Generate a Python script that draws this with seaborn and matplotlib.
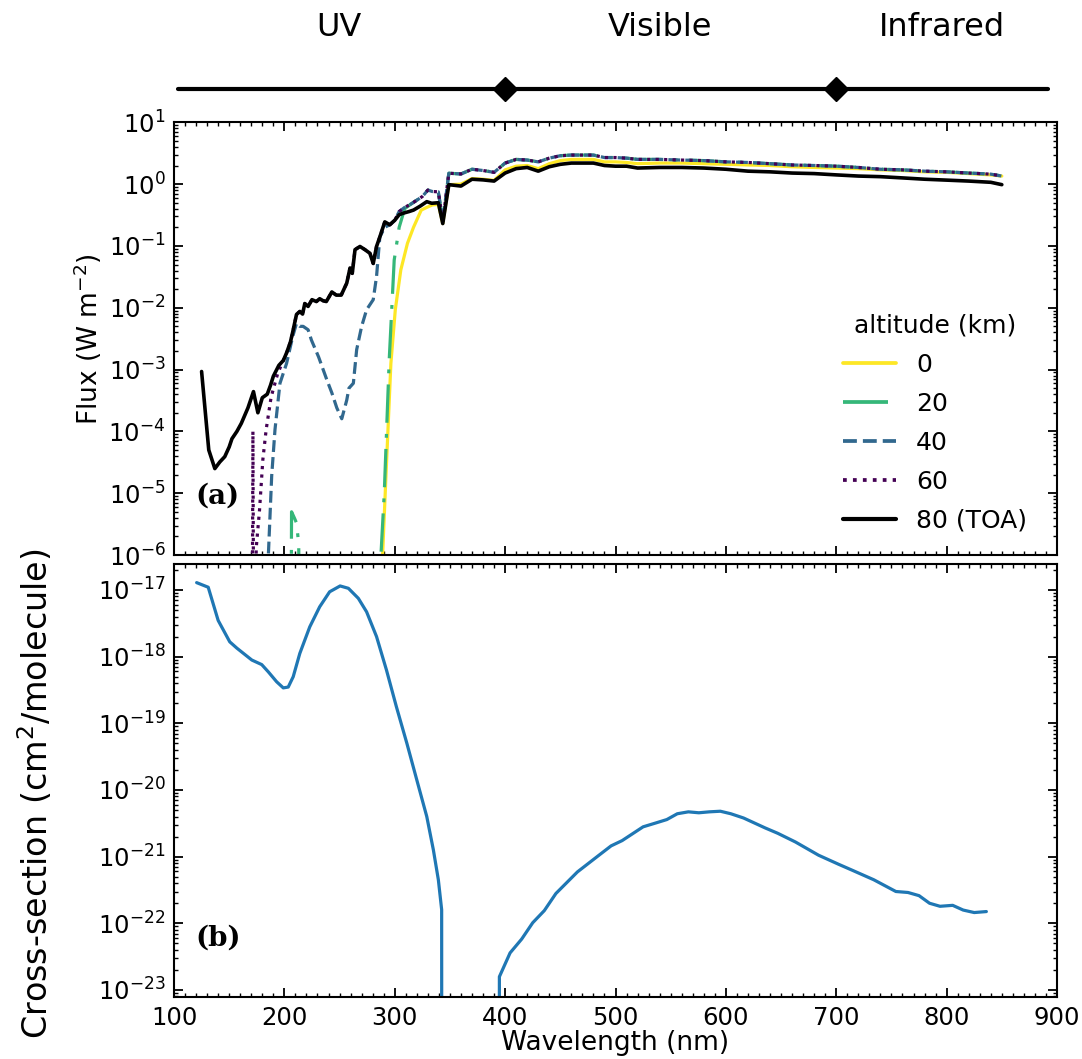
import numpy as np
import pandas as pd
import matplotlib
matplotlib.use("Agg")
import matplotlib.pyplot as plt
from matplotlib.lines import Line2D
from matplotlib.ticker import LogLocator, MultipleLocator, NullFormatter
import seaborn as sns

# ---------------- data ----------------
alt_labels = ["0", "20", "40", "60", "80 (TOA)"]
alt_colors = ["#fde725", "#35b779", "#31688e", "#440154", "#000000"]

# shared visible / near-IR wavelength grid (nm)
vis_wl = [349, 360, 370, 380, 390, 400, 410, 420, 430, 440, 450, 460, 470, 480, 490,
          500, 510, 520, 540, 560, 580, 600, 620, 640, 660, 680, 700, 720, 740, 760,
          780, 800, 820, 840, 850]
flux0_vis = [0.98, 1.00, 1.23, 1.20, 1.15, 1.70, 1.95, 2.00, 1.78, 2.14, 2.40, 2.51, 2.51,
             2.51, 2.29, 2.29, 2.24, 2.14, 2.19, 2.19, 2.14, 2.09, 2.04, 2.00, 1.91, 1.86,
             1.82, 1.78, 1.70, 1.66, 1.58, 1.55, 1.48, 1.41, 1.35]
flux_strat_vis = [1.50, 1.46, 1.74, 1.66, 1.55, 2.19, 2.51, 2.45, 2.29, 2.63, 2.88, 2.95,
                  2.95, 2.95, 2.69, 2.69, 2.63, 2.51, 2.51, 2.45, 2.40, 2.29, 2.24, 2.14,
                  2.04, 2.00, 1.95, 1.86, 1.74, 1.70, 1.62, 1.58, 1.51, 1.45, 1.35]
flux80_vis = [0.98, 0.93, 1.20, 1.17, 1.12, 1.51, 1.78, 1.86, 1.62, 1.91, 2.09, 2.19, 2.19,
              2.19, 2.00, 1.95, 1.95, 1.82, 1.86, 1.86, 1.82, 1.74, 1.62, 1.58, 1.51, 1.48,
              1.41, 1.35, 1.32, 1.26, 1.20, 1.16, 1.12, 1.07, 0.98]

# UV parts of each altitude (W m-2)
wl0_uv = [288, 289, 292, 296.5, 300.5, 305.5, 311.5, 317, 324, 329, 334, 339.5, 343.5]
flux0_uv = [1e-12, 1e-6, 1.86e-5, 1.26e-3, 9.3e-3, 4.1e-2, 0.11, 0.20, 0.38, 0.42, 0.46,
            0.47, 0.23]

wl20_uv = [205, 206.5, 209, 211, 213, 214.5, 285, 287.5, 290.5, 295, 299.5, 304, 309,
           315, 320, 325, 330, 334, 339.5, 343.5]
flux20_uv = [1e-12, 5e-6, 4e-6, 3.3e-6, 1.5e-6, 1e-10, 1e-12, 1e-6, 1e-5, 1.45e-3, 5.9e-2,
             0.2, 0.40, 0.48, 0.55, 0.63, 0.80, 0.76, 0.75, 0.25]

wl40_uv = [183, 185.5, 188.5, 191.5, 196, 202, 207.5, 211, 214, 217, 221.5, 224.5, 231,
           238.5, 243, 247.5, 252, 256.5, 258.5, 262.5, 265.5, 270, 274.5, 280.5, 283.5,
           286.5, 291, 295.5, 300, 304, 309, 315, 320, 325, 330, 334, 339.5, 343.5]
flux40_uv = [1e-12, 1e-6, 1.9e-5, 1.07e-4, 6e-4, 1.26e-3, 3.4e-3, 5.6e-3, 5.0e-3, 5.0e-3,
             4.4e-3, 3.0e-3, 1.6e-3, 6.8e-4, 4.2e-4, 2.4e-4, 1.6e-4, 3.2e-4, 5e-4, 6e-4,
             2.1e-3, 5.0e-3, 9.3e-3, 1.35e-2, 3.2e-2, 0.14, 0.20, 0.22, 0.26, 0.36, 0.42,
             0.48, 0.55, 0.63, 0.80, 0.76, 0.75, 0.25]

wl60_uv = [170, 171.5, 172.5, 174.5, 177.5, 180.5, 183.5, 188, 194, 199, 202, 205.5, 207.5,
           211, 214, 216.5, 218.5, 221.5, 225, 229, 232, 235, 238, 243, 247, 251.5, 256.5,
           259.5, 261.5, 264, 268.5, 273, 277.5, 280.5, 283.5, 286.5, 291, 295.5, 300,
           304, 309, 315, 320, 325, 330, 334, 339.5, 343.5]
flux60_uv = [1e-12, 1e-4, 1e-9, 1.3e-6, 5.4e-6, 3.5e-5, 1.07e-4, 3.6e-4, 8.7e-4, 1.4e-3,
             1.86e-3, 2.8e-3, 4.0e-3, 7.8e-3, 8.7e-3, 7.9e-3, 1.17e-2, 1.05e-2, 1.35e-2,
             1.26e-2, 1.4e-2, 1.3e-2, 1.26e-2, 1.8e-2, 1.6e-2, 1.6e-2, 2.5e-2, 4.4e-2,
             3.6e-2, 8.7e-2, 9.8e-2, 8.7e-2, 7.6e-2, 5.2e-2, 9.8e-2, 0.14, 0.245, 0.22,
             0.26, 0.36, 0.42, 0.48, 0.55, 0.63, 0.80, 0.76, 0.75, 0.25]

wl80_uv = [125, 131.5, 137, 141.5, 146, 150, 152.5, 157, 161, 167, 172, 176, 180, 184.5,
           187.5, 190, 195, 199, 202, 205.5, 207.5, 211, 214, 216.5, 218.5, 221.5, 225,
           229, 232, 235, 238, 243, 247, 251.5, 256.5, 259.5, 261.5, 264, 268.5, 273,
           277.5, 280.5, 283.5, 286.5, 291, 295.5, 300, 304, 308, 313, 317, 323, 329,
           333.5, 339.5, 343.5]
flux80_uv = [9.3e-4, 5.0e-5, 2.5e-5, 3.2e-5, 3.9e-5, 5.6e-5, 7.6e-5, 1.0e-4, 1.35e-4,
             2.4e-4, 4.4e-4, 2.0e-4, 3.5e-4, 4.0e-4, 5.6e-4, 7.8e-4, 1.17e-3, 1.4e-3,
             1.86e-3, 2.8e-3, 4.0e-3, 7.8e-3, 8.7e-3, 7.9e-3, 1.17e-2, 1.05e-2, 1.35e-2,
             1.26e-2, 1.4e-2, 1.3e-2, 1.26e-2, 1.8e-2, 1.6e-2, 1.6e-2, 2.5e-2, 4.4e-2,
             3.6e-2, 8.7e-2, 9.8e-2, 8.7e-2, 7.6e-2, 5.2e-2, 9.8e-2, 0.14, 0.245, 0.22,
             0.26, 0.32, 0.34, 0.36, 0.38, 0.44, 0.52, 0.49, 0.50, 0.23]

# ozone absorption cross-section (cm2/molecule)
xs_wl = [120.5, 131, 140, 150.5, 157, 170.5, 179.5, 185.5, 193, 199, 203.5, 208, 214, 223,
         232, 241, 250.5, 258, 267, 274.5, 283.5, 292.5, 301.5, 311, 320, 329, 335, 339.5,
         342.5, 342.7, 394.6, 394.8, 404.5, 415, 425, 435.5, 446, 465.5, 485, 496, 506,
         525, 536.5, 546.5, 556, 566, 575.5, 585, 595, 604.5, 616, 635.5, 647, 663, 684,
         702, 715, 734, 754, 765, 775, 784.5, 794, 805.5, 815, 825, 836]
xs_val = [1.29e-17, 1.1e-17, 3.5e-18, 1.67e-18, 1.34e-18, 8.9e-19, 7.6e-19, 5.9e-19,
          4.2e-19, 3.4e-19, 3.5e-19, 5e-19, 1.12e-18, 2.8e-18, 5.6e-18, 9.4e-18, 1.15e-17,
          1.06e-17, 7.5e-18, 4.7e-18, 2.0e-18, 6.3e-19, 1.77e-19, 5e-20, 1.41e-20, 4e-21,
          1.26e-21, 4.5e-22, 1.6e-22, 1e-30, 1e-30, 1.58e-23, 3.6e-23, 5.8e-23, 1.02e-22,
          1.55e-22, 2.8e-22, 5.9e-22, 1.05e-21, 1.45e-21, 1.74e-21, 2.8e-21, 3.2e-21,
          3.6e-21, 4.4e-21, 4.7e-21, 4.55e-21, 4.7e-21, 4.8e-21, 4.4e-21, 3.8e-21, 2.7e-21,
          2.24e-21, 1.66e-21, 1.05e-21, 7.7e-22, 6.2e-22, 4.5e-22, 3.0e-22, 2.9e-22,
          2.6e-22, 2.0e-22, 1.8e-22, 1.86e-22, 1.58e-22, 1.45e-22, 1.5e-22]

band_labels = ["UV", "Visible", "Infrared"]
band_label_x = [249, 540, 796]
band_edges = [400, 700]

# ---------------- tables ----------------
series_wl = [wl0_uv + vis_wl, wl20_uv + vis_wl, wl40_uv + vis_wl, wl60_uv + vis_wl,
             wl80_uv + vis_wl]
series_fl = [flux0_uv + flux0_vis, flux20_uv + flux_strat_vis, flux40_uv + flux_strat_vis,
             flux60_uv + flux_strat_vis, flux80_uv + flux80_vis]
rows = []
for lab, wls, fls in zip(alt_labels, series_wl, series_fl):
    for w, f in zip(wls, fls):
        rows.append((lab, w, f))
df_flux = pd.DataFrame(rows, columns=["altitude", "wl", "flux"])
df_xs = pd.DataFrame({"wl": xs_wl, "xs": xs_val})

# ---------------- style ----------------
sns.set_theme(style="ticks")
plt.rcParams["font.family"] = ["DejaVu Sans"]
plt.rcParams["mathtext.fontset"] = "dejavusans"
for key in ("text.color", "axes.labelcolor", "xtick.color", "ytick.color",
            "axes.edgecolor"):
    plt.rcParams[key] = "black"

alt_dashes = ["", (12, 3.5, 1.2, 3.5), (3.7, 1.6), (1, 1.65), ""]
alt_lw = [2.3, 2.3, 2.3, 2.3, 2.6]

fig = plt.figure(figsize=(10.82, 10.59), dpi=100)
L = 174 / 1082
W = 883 / 1082
ax_band = fig.add_axes([L, 1 - 120 / 1059, W, 120 / 1059])
ax_a = fig.add_axes([L, 1 - 555 / 1059, W, 432.7 / 1059])
ax_b = fig.add_axes([L, 1 - 997.3 / 1059, W, 433.3 / 1059])

# panel a
sns.lineplot(data=df_flux, x="wl", y="flux", hue="altitude", style="altitude",
             hue_order=alt_labels, style_order=alt_labels,
             palette=dict(zip(alt_labels, alt_colors)),
             dashes=dict(zip(alt_labels, alt_dashes)),
             estimator=None, sort=False, linewidth=2.3, ax=ax_a, legend=False)
for line, lw in zip(ax_a.lines, alt_lw):
    line.set_linewidth(lw)

# panel b
sns.lineplot(data=df_xs, x="wl", y="xs", color="#1f77b4", linewidth=2.3,
             estimator=None, sort=False, ax=ax_b)

for ax in (ax_a, ax_b):
    ax.set_xlim(100, 900)
    ax.set_yscale("log")
    ax.xaxis.set_major_locator(MultipleLocator(100))
    ax.xaxis.set_minor_locator(MultipleLocator(10))
    ax.yaxis.set_major_locator(LogLocator(base=10, numticks=40))
    ax.yaxis.set_minor_locator(LogLocator(base=10, subs=np.arange(2, 10), numticks=40))
    ax.yaxis.set_minor_formatter(NullFormatter())
    ax.tick_params(which="both", direction="in", top=True, right=True, colors="black")
    ax.tick_params(which="major", length=6.5, width=1.3, labelsize=17.5, pad=6)
    ax.tick_params(which="minor", length=3.2, width=1.0)
    for s in ax.spines.values():
        s.set_linewidth(1.5)
        s.set_color("black")
    ax.set_xlabel("")
    ax.set_ylabel("")

ax_a.set_ylim(1e-6, 1e1)
ax_b.set_ylim(10 ** -23.11, 10 ** -16.61)
ax_a.tick_params(labelbottom=False)

ax_a.set_ylabel("Flux (W m$^{-2}$)", fontsize=19, va="center")
ax_a.yaxis.set_label_coords(-0.0974, 0.50)
ax_b.set_ylabel("Cross-section (cm$^2$/molecule)", fontsize=24, va="center")
ax_b.yaxis.set_label_coords(-0.157, 0.47)
ax_b.set_xlabel("Wavelength (nm)", fontsize=19, va="center")
ax_b.xaxis.set_label_coords(0.5, -0.105)

ax_a.text(0.024, 0.137, "(a)", transform=ax_a.transAxes, family="DejaVu Serif",
          weight="bold", fontsize=20, ha="left", va="center")
ax_b.text(0.024, 0.136, "(b)", transform=ax_b.transAxes, family="DejaVu Serif",
          weight="bold", fontsize=20, ha="left", va="center")

handles = [Line2D([], [], color=c, lw=lw + 0.4,
                  linestyle=("-" if d == "" else (0, d)))
           for c, d, lw in zip(alt_colors, alt_dashes, alt_lw)]
ax_a.legend(handles, alt_labels, title="altitude (km)", frameon=False, fontsize=18,
            title_fontsize=18, handlelength=2.1, handletextpad=0.8, labelspacing=0.6,
            loc="center", bbox_to_anchor=(0.862, 0.305))

# top spectral band bar
ax_band.set_xlim(100, 900)
ax_band.set_ylim(0, 1)
ax_band.axis("off")
ax_band.axhline(0.256, xmin=0.0045, xmax=0.99, color="black", lw=3)
ax_band.plot(band_edges, [0.256] * len(band_edges), linestyle="none", marker="D",
             markersize=12, color="black")
for x, lab in zip(band_label_x, band_labels):
    ax_band.text(x, 0.767, lab, ha="center", va="center", fontsize=23)

fig.savefig("out.png", dpi=100)
